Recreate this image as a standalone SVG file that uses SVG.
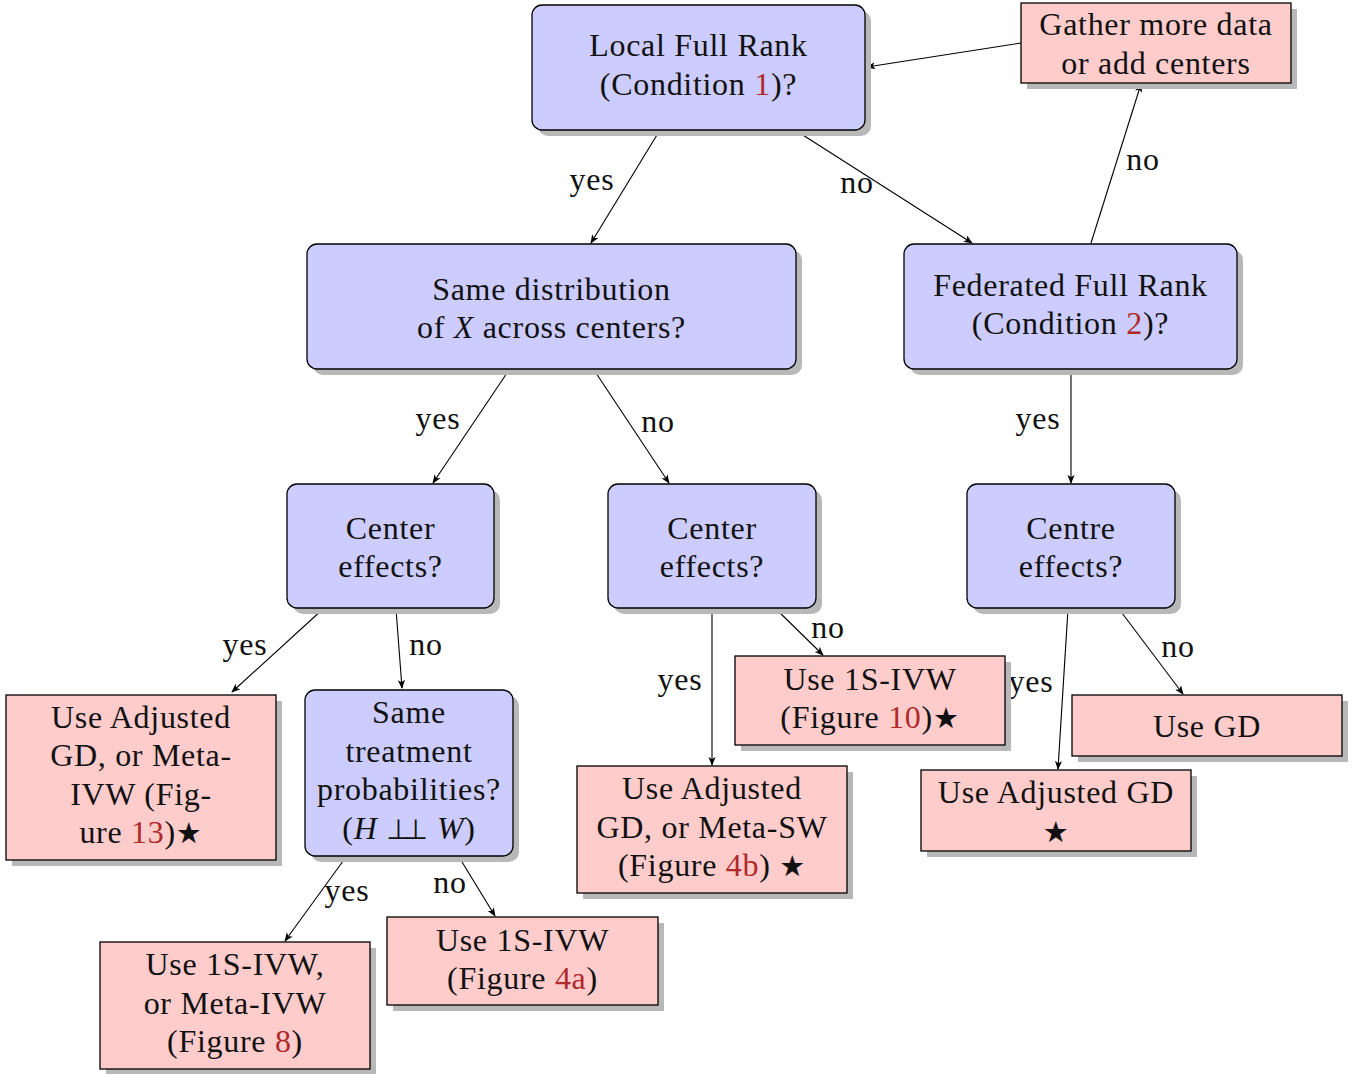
<svg xmlns="http://www.w3.org/2000/svg" width="1359" height="1074" viewBox="0 0 1359 1074">
<defs>
<marker id="ah" viewBox="0 0 10 10" refX="9" refY="5" markerWidth="9" markerHeight="9" markerUnits="userSpaceOnUse" orient="auto">
<path d="M0,1 L10,5 L0,9 L2.5,5 Z" fill="#000"/>
</marker>
</defs>
<style>
text{font-family:"Liberation Serif","DejaVu Serif",serif;font-size:32px;fill:#111;text-anchor:middle;letter-spacing:0.7px}
.q rect.b{fill:#ccccff;stroke:#000;stroke-width:1.3}
.a rect.b{fill:#ffcccc;stroke:#000;stroke-width:1.3}
rect.s{fill:#b8b8b8}
.r{fill:#b02a2a}
.i{font-style:italic}
.st{font-family:"DejaVu Sans",sans-serif;font-size:29px}
.pp{font-family:"DejaVu Sans",sans-serif;font-size:28px;letter-spacing:-7px}
#edges line{stroke:#000;stroke-width:1.1;marker-end:url(#ah)}
</style>
<rect width="1359" height="1074" fill="#fff"/>

<g id="edges">
<line x1="1021" y1="43" x2="867" y2="67"/>
<line x1="660" y1="130" x2="591" y2="243"/>
<line x1="795" y1="130" x2="972" y2="243"/>
<line x1="1091" y1="243" x2="1141" y2="84"/>
<line x1="509" y1="370" x2="433" y2="483"/>
<line x1="594" y1="370" x2="669" y2="483"/>
<line x1="1071" y1="370" x2="1071" y2="483"/>
<line x1="323" y1="609" x2="232" y2="692"/>
<line x1="396" y1="609" x2="402" y2="688"/>
<line x1="712" y1="609" x2="712" y2="765"/>
<line x1="776" y1="609" x2="823" y2="655"/>
<line x1="1068" y1="609" x2="1058" y2="769"/>
<line x1="1119" y1="609" x2="1183" y2="694"/>
<line x1="346" y1="857" x2="285" y2="941"/>
<line x1="459" y1="857" x2="495" y2="916"/>
</g>
<g id="edge-labels">
<text x="592" y="190">yes</text>
<text x="857" y="193">no</text>
<text x="1143" y="170">no</text>
<text x="438" y="429">yes</text>
<text x="658" y="432">no</text>
<text x="1038" y="429">yes</text>
<text x="245" y="655">yes</text>
<text x="426" y="655">no</text>
<text x="680" y="690">yes</text>
<text x="828" y="638">no</text>
<text x="1031" y="692">yes</text>
<text x="1178" y="657">no</text>
<text x="347" y="901">yes</text>
<text x="450" y="893">no</text>
</g>

<g id="n-local" class="q">
<rect class="s" x="538" y="11" width="333" height="125" rx="10"/>
<rect class="b" x="532" y="5" width="333" height="125" rx="10"/>
<text x="698.5" y="56">Local Full Rank</text>
<text x="698.5" y="95">(Condition <tspan class="r">1</tspan>)?</text>
</g>
<g id="n-gather" class="a">
<rect class="s" x="1027" y="9" width="270" height="80"/>
<rect class="b" x="1021" y="3" width="270" height="80"/>
<text x="1156" y="35">Gather more data</text>
<text x="1156" y="74">or add centers</text>
</g>
<g id="n-samedist" class="q">
<rect class="s" x="313" y="250" width="489" height="125" rx="10"/>
<rect class="b" x="307" y="244" width="489" height="125" rx="10"/>
<text x="551.5" y="300">Same distribution</text>
<text x="551.5" y="338">of <tspan class="i">X</tspan> across centers?</text>
</g>
<g id="n-fed" class="q">
<rect class="s" x="910" y="250" width="333" height="125" rx="10"/>
<rect class="b" x="904" y="244" width="333" height="125" rx="10"/>
<text x="1070.5" y="296">Federated Full Rank</text>
<text x="1070.5" y="334">(Condition <tspan class="r">2</tspan>)?</text>
</g>
<g id="n-centerL" class="q">
<rect class="s" x="293" y="490" width="207" height="124" rx="10"/>
<rect class="b" x="287" y="484" width="207" height="124" rx="10"/>
<text x="390.5" y="539">Center</text>
<text x="390.5" y="577">effects?</text>
</g>
<g id="n-centerM" class="q">
<rect class="s" x="614" y="490" width="208" height="124" rx="10"/>
<rect class="b" x="608" y="484" width="208" height="124" rx="10"/>
<text x="712" y="539">Center</text>
<text x="712" y="577">effects?</text>
</g>
<g id="n-centre" class="q">
<rect class="s" x="973" y="490" width="208" height="124" rx="10"/>
<rect class="b" x="967" y="484" width="208" height="124" rx="10"/>
<text x="1071" y="539">Centre</text>
<text x="1071" y="577">effects?</text>
</g>
<g id="n-adjmetaivw" class="a">
<rect class="s" x="12" y="701" width="270" height="165"/>
<rect class="b" x="6" y="695" width="270" height="165"/>
<text x="141" y="728">Use Adjusted</text>
<text x="141" y="766">GD, or Meta-</text>
<text x="141" y="805">IVW (Fig-</text>
<text x="141" y="843">ure <tspan class="r">13</tspan>)<tspan class="st">★</tspan></text>
</g>
<g id="n-sametreat" class="q">
<rect class="s" x="311" y="696" width="208" height="166" rx="10"/>
<rect class="b" x="305" y="690" width="208" height="166" rx="10"/>
<text x="409" y="723">Same</text>
<text x="409" y="762">treatment</text>
<text x="409" y="800">probabilities?</text>
<text x="409" y="839">(<tspan class="i">H</tspan> <tspan class="pp">⊥⊥</tspan><tspan class="i" dx="16">W</tspan>)</text>
</g>
<g id="n-1sivw10" class="a">
<rect class="s" x="741" y="662" width="270" height="89"/>
<rect class="b" x="735" y="656" width="270" height="89"/>
<text x="870" y="690">Use 1S-IVW</text>
<text x="870" y="728">(Figure <tspan class="r">10</tspan>)<tspan class="st">★</tspan></text>
</g>
<g id="n-adjmetasw" class="a">
<rect class="s" x="583" y="772" width="270" height="127"/>
<rect class="b" x="577" y="766" width="270" height="127"/>
<text x="712" y="799">Use Adjusted</text>
<text x="712" y="838">GD, or Meta-SW</text>
<text x="712" y="876">(Figure <tspan class="r">4b</tspan>) <tspan class="st">★</tspan></text>
</g>
<g id="n-usegd" class="a">
<rect class="s" x="1078" y="701" width="270" height="61"/>
<rect class="b" x="1072" y="695" width="270" height="61"/>
<text x="1207" y="737">Use GD</text>
</g>
<g id="n-adjgd" class="a">
<rect class="s" x="927" y="776" width="270" height="81"/>
<rect class="b" x="921" y="770" width="270" height="81"/>
<text x="1056" y="803">Use Adjusted GD</text>
<text x="1056" y="842"><tspan class="st">★</tspan></text>
</g>
<g id="n-1sivwmeta" class="a">
<rect class="s" x="106" y="948" width="270" height="127"/>
<rect class="b" x="100" y="942" width="270" height="127"/>
<text x="235" y="975">Use 1S-IVW,</text>
<text x="235" y="1014">or Meta-IVW</text>
<text x="235" y="1052">(Figure <tspan class="r">8</tspan>)</text>
</g>
<g id="n-1sivw4a" class="a">
<rect class="s" x="393" y="923" width="271" height="88"/>
<rect class="b" x="387" y="917" width="271" height="88"/>
<text x="522.5" y="951">Use 1S-IVW</text>
<text x="522.5" y="989">(Figure <tspan class="r">4a</tspan>)</text>
</g>
</svg>
